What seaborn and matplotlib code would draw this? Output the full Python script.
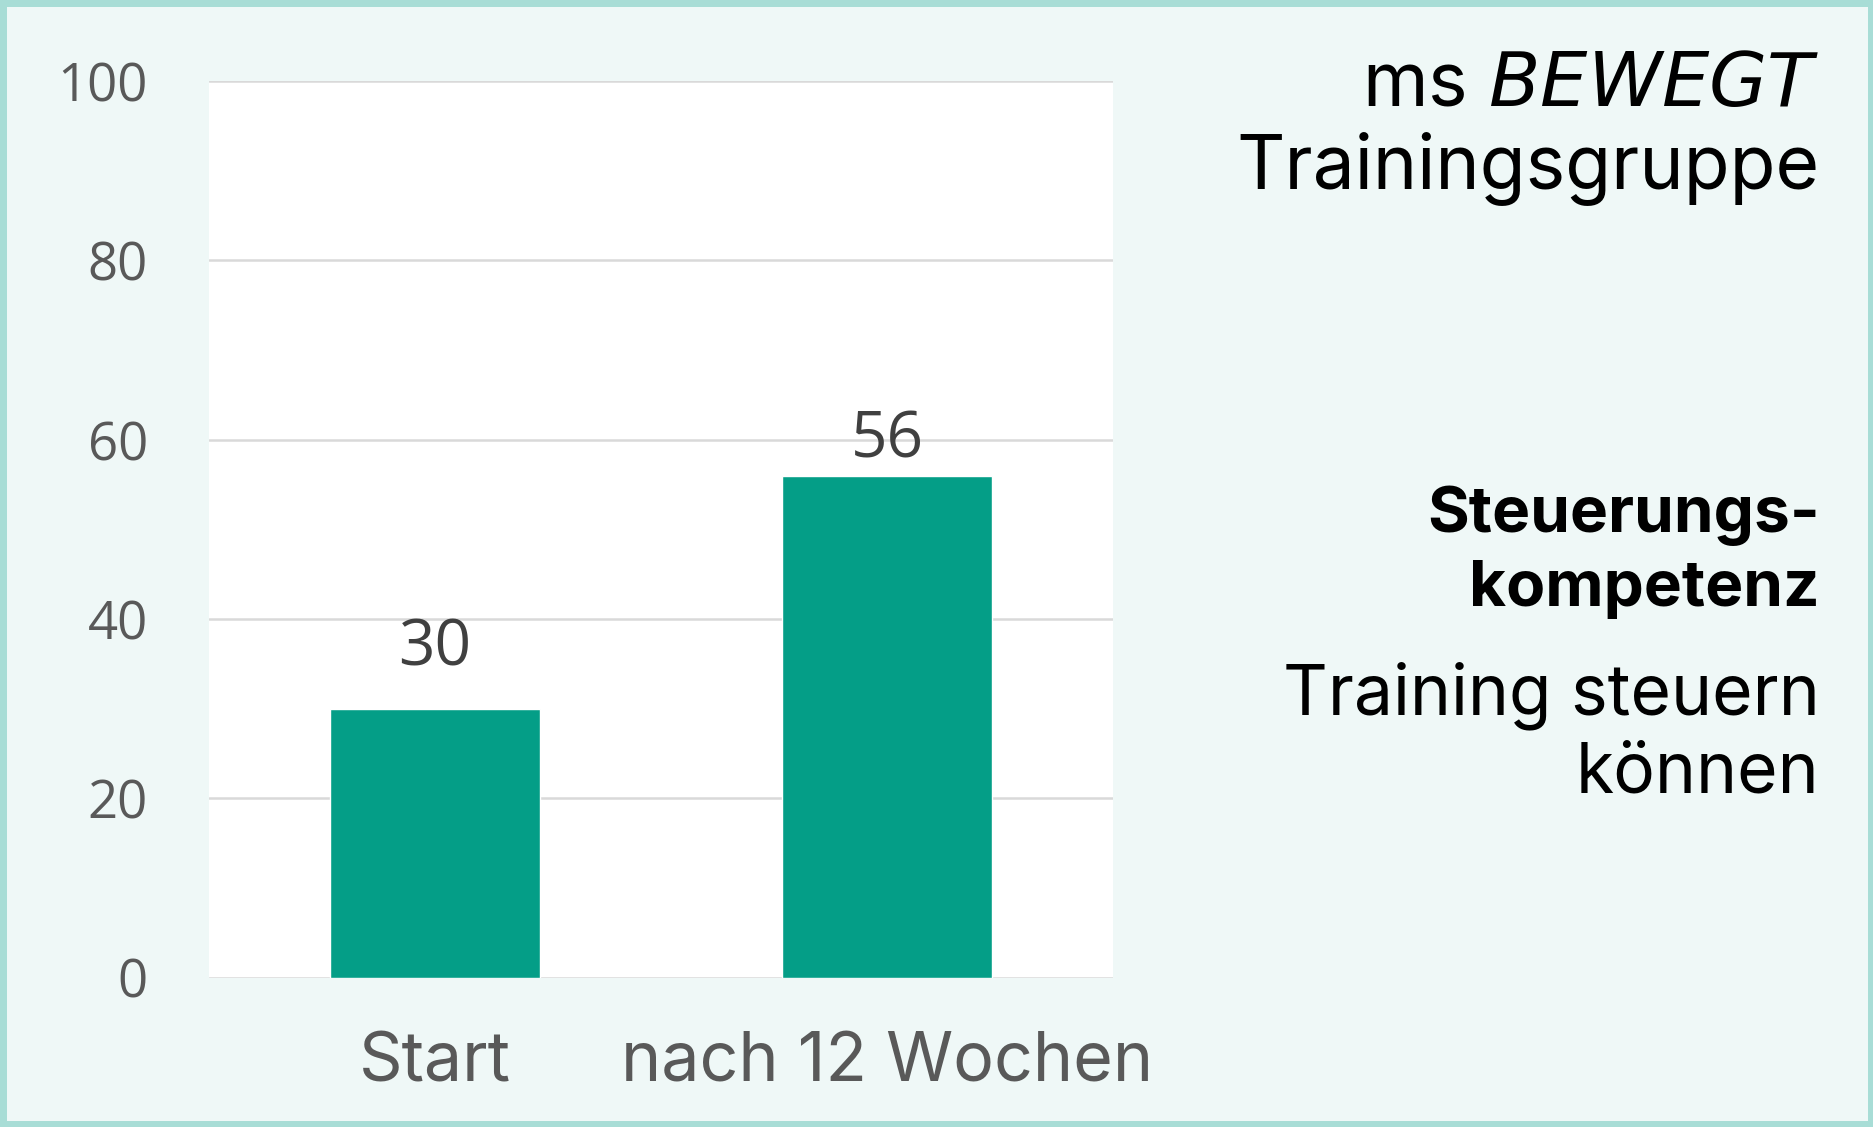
import matplotlib
matplotlib.use("Agg")
import matplotlib.pyplot as plt
import pandas as pd
import seaborn as sns

categories = ["Start", "nach 12 Wochen"]
values = [30, 56]
y_ticks = [0, 20, 40, 60, 80, 100]

BAR_COLOR = "#049E87"
BG = "#EFF8F7"
BORDER = "#A8DDD6"

sns.set_theme(style="white")
plt.rcParams["font.family"] = ["Open Sans", "DejaVu Sans"]

df = pd.DataFrame({"phase": categories, "wert": values})

fig = plt.figure(figsize=(18.74, 11.27), dpi=100, facecolor=BG,
                 edgecolor=BORDER, linewidth=9)
ax = fig.add_axes([0.1115, 0.1325, 0.4825, 0.7955])
ax.set_facecolor("white")

sns.barplot(data=df, x="phase", y="wert", color=BAR_COLOR, width=0.465,
            saturation=1, ax=ax, zorder=3)

ax.set_ylim(0, 100)
ax.set_xlim(-0.5, 1.5)
ax.set_yticks(y_ticks)
ax.yaxis.grid(True, color="#D9D9D9", linewidth=1.8, zorder=0)
ax.set_axisbelow(True)
for s in ax.spines.values():
    s.set_visible(False)
ax.set_xlabel("")
ax.set_ylabel("")
ax.tick_params(axis="y", length=0, pad=44, labelsize=38, labelcolor="#595959")
ax.tick_params(axis="x", length=0, pad=39, labelsize=49, labelcolor="#595959")
for lbl in ax.get_xticklabels():
    lbl.set_family(["Inter", "DejaVu Sans"])

# data labels (the original labels sit at slightly different gaps)
label_gap = [20, 2]
for bar, v, gap in zip(ax.patches, values, label_gap):
    ax.annotate(str(v), (bar.get_x() + bar.get_width() / 2, bar.get_height()),
                xytext=(0, gap), textcoords="offset points", ha="center",
                va="bottom", fontsize=46, color="#404040")

rx = 0.971
fig.text(rx, 0.906, "ms $\\it{BEWEGT}$", ha="right", va="baseline", fontsize=54,
         family=["Inter", "DejaVu Sans"], color="black")
fig.text(rx, 0.833, "Trainingsgruppe", ha="right", va="baseline", fontsize=54,
         family=["Inter", "DejaVu Sans"], color="black")
fig.text(rx, 0.528, "Steuerungs-", ha="right", va="baseline", fontsize=46,
         fontweight="bold", family=["Inter", "DejaVu Sans"], color="black")
fig.text(rx, 0.462, "kompetenz", ha="right", va="baseline", fontsize=46,
         fontweight="bold", family=["Inter", "DejaVu Sans"], color="black")
fig.text(rx, 0.366, "Training steuern", ha="right", va="baseline", fontsize=50,
         family=["Inter", "DejaVu Sans"], color="black")
fig.text(rx, 0.297, "können", ha="right", va="baseline", fontsize=50,
         family=["Inter", "DejaVu Sans"], color="black")

fig.savefig("out.png", dpi=100, facecolor=BG, edgecolor=BORDER)
